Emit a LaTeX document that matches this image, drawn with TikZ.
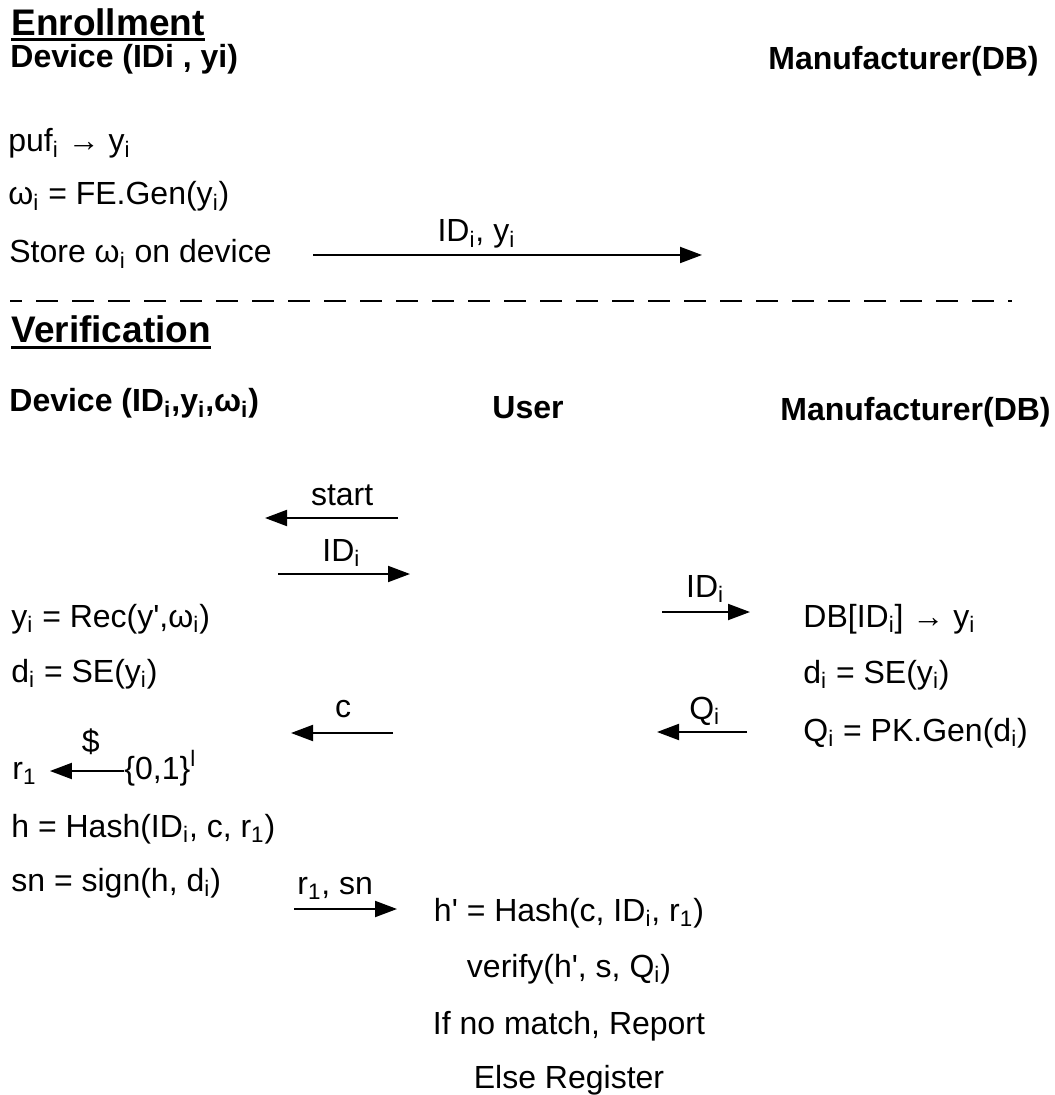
\documentclass[tikz,border=0pt]{standalone}
\usepackage{fontspec}
\setmainfont{Liberation Sans}
\usetikzlibrary{arrows.meta}
\newcommand{\subx}[1]{\textsubscript{#1}}
\newcommand{\supx}[1]{\textsuperscript{#1}}
\newcommand{\prm}{\textquotesingle}
\begin{document}
\begin{tikzpicture}[x=0.5pt,y=-0.5pt,
  txt/.style={inner sep=0pt,anchor=base west,font=\fontsize{16}{19}\selectfont},
  mid/.style={txt,anchor=base},
  hdr/.style={txt,font=\fontsize{16}{19}\selectfont\bfseries},
  ttl/.style={txt,font=\fontsize{18.5}{22}\selectfont\bfseries},
  uline/.style={line width=1.5pt},
  msg/.style={line width=1pt,-{Triangle[length=11pt,width=8pt]}},
  lab/.style={txt,anchor=base,yshift=6.5pt}]
\useasboundingbox (0,0) rectangle (1054,1095);

% enrollment
\node[ttl] (enr) at (11,36) {Enrollment};
\draw[uline] ([yshift=-2pt]enr.base west) -- ([yshift=-2pt]enr.base east);
\node[hdr] (dev1) at (10,68) {Device (IDi , yi)};
\node[hdr] (man1) at (768,70) {Manufacturer(DB)};
\node[txt] (puf) at (8,152) {puf\subx{i} → y\subx{i}};
\node[txt] (gen) at (8,205) {ω\subx{i} = FE.Gen(y\subx{i})};
\node[txt] (store) at (9,263) {Store ω\subx{i} on device};
\coordinate (e1) at (313,255);
\coordinate (e2) at (702,255);
\draw[msg] (e1) -- node[lab,pos=0.42] {ID\subx{i}, y\subx{i}} (e2);

% separator
\coordinate (sepL) at (10,301);
\coordinate (sepR) at (1012,301);
\draw[line width=1.3pt,dash pattern=on 11pt off 7pt,dash phase=5pt] (sepL) -- (sepR);

% verification
\node[ttl] (ver) at (11,343) {Verification};
\draw[uline] ([yshift=-2.5pt]ver.base west) -- ([yshift=-2.5pt]ver.base east);
\node[hdr] (dev2) at (9,412) {Device (ID\subx{i},y\subx{i},ω\subx{i})};
\node[hdr] (usr) at (492,419) {User};
\node[hdr] (man2) at (780,421) {Manufacturer(DB)};

% device side
\node[txt] (rec) at (11,627) {y\subx{i} = Rec(y\prm,ω\subx{i})};
\node[txt] (sed) at (11,682) {d\subx{i} = SE(y\subx{i})};
\node[txt] (r1) at (12,779) {r\subx{1}};
\node[txt] (rnd) at (124,779) {\{0,1\}\supx{l}};
\draw[msg] ([yshift=4pt]rnd.base west) -- node[lab,pos=0.45,yshift=3pt] {\$} ([xshift=6.5pt,yshift=4pt]r1.base east);
\node[txt] (hsh) at (11,837) {h = Hash(ID\subx{i}, c, r\subx{1})};
\node[txt] (sgn) at (11,891) {sn = sign(h, d\subx{i})};

% manufacturer side
\node[txt] (db) at (803,627) {DB[ID\subx{i}] → y\subx{i}};
\node[txt] (sem) at (803,683) {d\subx{i} = SE(y\subx{i})};
\node[txt] (pkg) at (803,741) {Q\subx{i} = PK.Gen(d\subx{i})};

% user side
\node[mid] (hpr) at (569,921) {h\prm\ = Hash(c, ID\subx{i}, r\subx{1})};
\node[mid] (vfy) at (569,977) {verify(h\prm, s, Q\subx{i})};
\node[mid] (rep) at (569,1034) {If no match, Report};
\node[mid] (reg) at (569,1088) {Else Register};

% messages
\coordinate (s1) at (398,518);
\coordinate (s2) at (265,518);
\draw[msg] (s1) -- node[lab,pos=0.42] {start} (s2);
\coordinate (i1) at (278,574);
\coordinate (i2) at (410,574);
\draw[msg] (i1) -- node[lab,pos=0.48] {ID\subx{i}} (i2);
\coordinate (m1) at (662,612);
\coordinate (m2) at (750,612);
\draw[msg] (m1) -- node[lab,pos=0.49,yshift=1pt] {ID\subx{i}} (m2);
\coordinate (c1) at (393,733);
\coordinate (c2) at (291,733);
\draw[msg] (c1) -- node[lab,pos=0.49,yshift=1.5pt] {c} (c2);
\coordinate (q1) at (747,732);
\coordinate (q2) at (657,732);
\draw[msg] (q1) -- node[lab,pos=0.47] {Q\subx{i}} (q2);
\coordinate (n1) at (294,909);
\coordinate (n2) at (397,909);
\draw[msg] (n1) -- node[lab,pos=0.4,yshift=1pt] {r\subx{1}, sn} (n2);
\end{tikzpicture}
\end{document}
